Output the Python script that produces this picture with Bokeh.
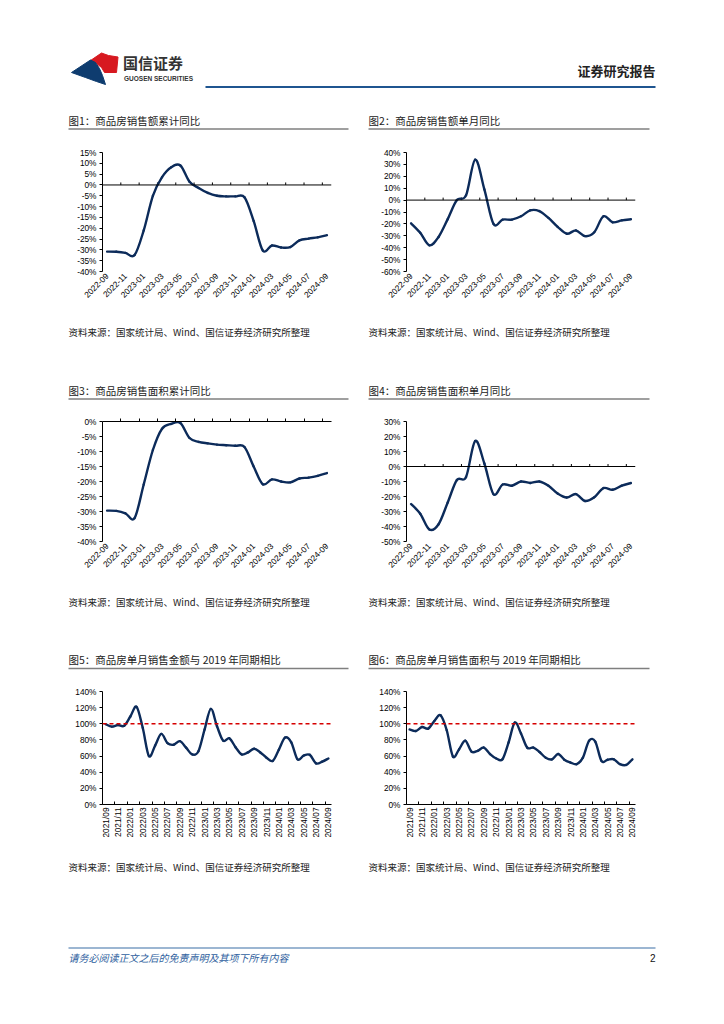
import pandas as pd
from bokeh.plotting import figure
from bokeh.layouts import column, row
from bokeh.models import Range1d, FixedTicker, Span, LinearAxis
from bokeh.core.properties import value
from bokeh.embed import file_html
from bokeh.resources import INLINE

CJK = "Noto Sans CJK SC"
LAT = "Liberation Sans"
LINE_COLOR = "#0c2b5a"
PAGE_W = 724

# ---------------- data ----------------
months_a = [p.strftime("%Y-%m") for p in pd.period_range("2022-09", "2024-09", freq="M")]
months_b = [p.strftime("%Y/%m") for p in pd.period_range("2021-09", "2024-09", freq="M")]

sales_amount_cum = [-30.8, -30.9, -31.4, -32.4, -21.0, -5.0, 3.6, 8.2, 9.0, 1.5, -1.4, -3.7,
                    -5.0, -5.3, -5.3, -5.7, -16.6, -30.3, -28.0, -28.9, -28.7, -25.6, -24.8, -24.2, -23.2]
sales_amount_month = [-19.5, -27.5, -38.0, -31.0, -16.0, 0.0, 4.0, 34.0, 9.0, -20.0, -16.4, -16.4,
                      -13.6, -8.6, -9.2, -15.0, -22.5, -28.3, -25.5, -30.3, -27.0, -13.6, -18.6, -17.0, -16.1]
sales_area_cum = [-29.7, -29.8, -30.6, -32.2, -21.0, -9.5, -2.4, -0.8, -0.5, -5.5, -6.8, -7.3,
                  -7.7, -7.9, -8.1, -8.5, -15.0, -20.9, -19.3, -20.0, -20.3, -19.0, -18.7, -18.1, -17.2]
sales_area_month = [-25.0, -31.5, -42.0, -38.5, -24.0, -9.0, -7.0, 17.0, 2.0, -18.5, -12.0, -12.8,
                    -10.0, -11.0, -10.0, -12.8, -18.0, -20.7, -18.4, -23.0, -20.5, -14.4, -15.5, -12.8, -11.0]
amount_vs_2019 = [99.5, 96.5, 98.5, 97.5, 109.0, 121.0, 95.0, 60.0, 73.0, 87.5, 76.0, 74.0, 78.5,
                  70.5, 62.0, 66.0, 93.0, 118.5, 97.0, 79.0, 82.0, 71.0, 62.0, 64.5, 69.0, 64.5,
                  58.0, 54.0, 68.0, 83.0, 77.0, 56.0, 60.5, 61.5, 51.0, 53.0, 57.0]
area_vs_2019 = [93.0, 91.0, 96.0, 94.0, 103.5, 110.5, 92.0, 59.5, 68.5, 79.0, 65.5, 66.5, 70.5,
                62.5, 57.0, 56.0, 77.0, 101.5, 88.0, 70.5, 70.5, 65.0, 58.0, 56.0, 62.5, 55.5,
                52.0, 50.0, 58.0, 79.0, 78.0, 54.0, 55.5, 56.0, 50.0, 49.0, 56.0]
baseline_2019 = 100

yticks_1 = list(range(-40, 16, 5))
yticks_2 = list(range(-60, 41, 10))
yticks_3 = list(range(-40, 1, 5))
yticks_4 = list(range(-50, 31, 10))
yticks_5 = list(range(0, 141, 20))

chart_titles = ["图1：商品房销售额累计同比", "图2：商品房销售额单月同比",
                "图3：商品房销售面积累计同比", "图4：商品房销售面积单月同比",
                "图5：商品房单月销售金额与 2019 年同期相比", "图6：商品房单月销售面积与 2019 年同期相比"]
source_note = "资料来源：国家统计局、Wind、国信证券经济研究所整理"
footer_note = "请务必阅读正文之后的免责声明及其项下所有内容"
page_no = "2"
company_cn = "国信证券"
company_en = "GUOSEN SECURITIES"
report_type = "证券研究报告"

FRAME_W = 229


def smooth(xs, ys):
    n = len(xs)
    out = dict(x0=[], y0=[], x1=[], y1=[], cx0=[], cy0=[], cx1=[], cy1=[])
    for i in range(n - 1):
        a = max(i - 1, 0)
        d = min(i + 2, n - 1)
        out["x0"].append(xs[i]); out["y0"].append(ys[i])
        out["x1"].append(xs[i + 1]); out["y1"].append(ys[i + 1])
        out["cx0"].append(xs[i] + (xs[i + 1] - xs[a]) / 6.0)
        out["cy0"].append(ys[i] + (ys[i + 1] - ys[a]) / 6.0)
        out["cx1"].append(xs[i + 1] - (xs[d] - xs[i]) / 6.0)
        out["cy1"].append(ys[i + 1] - (ys[d] - ys[i]) / 6.0)
    return out


def chart(vals, labels, yticks, width, left, height, top, bottom, angle, mode, ref=None):
    n = len(vals)
    xs = list(range(n))
    p = figure(width=width, height=height, x_range=Range1d(-0.5, n - 0.5),
               y_range=Range1d(yticks[0], yticks[-1]), output_backend="svg",
               toolbar_location=None, min_border_left=left,
               min_border_right=width - left - FRAME_W, min_border_top=top,
               min_border_bottom=bottom)
    p.outline_line_color = None
    p.xgrid.grid_line_color = None
    p.ygrid.grid_line_color = None
    p.background_fill_color = "white"
    p.border_fill_color = "white"

    frame_h = height - top - bottom
    all_b = [b - 0.5 for b in range(0, n, 2)]
    bounds = all_b if mode == "bottom" else all_b[1:]

    ya = p.yaxis[0]
    ya.ticker = FixedTicker(ticks=yticks)
    ya.major_label_overrides = {t: f"{t}%" for t in yticks}
    ya.axis_line_color = "black"
    ya.axis_line_width = 1
    ya.major_tick_out = 3
    ya.major_tick_in = 0
    ya.minor_tick_out = 0
    ya.minor_tick_in = 0
    ya.major_label_standoff = 3
    ya.major_label_text_font = LAT
    ya.major_label_text_font_size = "8.3px"
    ya.major_label_text_color = "#000000"

    xa = p.xaxis[0]
    even = list(range(0, n, 2))
    if mode == "bottom":
        xa.ticker = FixedTicker(ticks=even, minor_ticks=bounds)
        xa.axis_line_color = "black"
        xa.minor_tick_in = 3
        xa.minor_tick_out = 0
        xa.minor_tick_line_color = "black"
    else:
        xa.ticker = FixedTicker(ticks=even)
        xa.axis_line_color = None
        xa.minor_tick_in = 0
        xa.minor_tick_out = 0
    xa.major_tick_in = 0
    xa.major_tick_out = 0
    xa.major_label_overrides = {i: labels[i] for i in even}
    xa.major_label_orientation = angle
    xa.major_label_standoff = 3
    xa.major_label_text_font = LAT
    xa.major_label_text_font_size = "8.3px"
    xa.major_label_text_color = "#000000"

    if mode == "zero":
        p.add_layout(Span(location=0, dimension="width", line_color="black", line_width=1))
        tl = 2.5 * (yticks[-1] - yticks[0]) / frame_h
        p.segment(x0=bounds, y0=[0] * len(bounds), x1=bounds, y1=[tl] * len(bounds),
                  line_color="black", line_width=1)
    elif mode == "top":
        ax = LinearAxis(ticker=FixedTicker(ticks=bounds), major_tick_out=3, major_tick_in=0,
                        minor_tick_out=0, minor_tick_in=0, major_label_standoff=0,
                        major_label_text_font_size="1px", major_label_text_color=None,
                        axis_line_color="black", major_tick_line_color="black")
        p.add_layout(ax, "above")

    if ref is not None:
        p.add_layout(Span(location=ref, dimension="width", line_color="#d50000",
                          line_width=1.5, line_dash="4 3"))

    sm = smooth(xs, vals)
    p.bezier(x0="x0", y0="y0", x1="x1", y1="y1", cx0="cx0", cy0="cy0", cx1="cx1", cy1="cy1",
             source=sm, line_color=LINE_COLOR, line_width=2.4, line_cap="round")
    return p


def strip(y_top, y_bot):
    p = figure(width=PAGE_W, height=int(y_bot - y_top), x_range=Range1d(0, PAGE_W),
               y_range=Range1d(y_bot, y_top), output_backend="svg", toolbar_location=None,
               x_axis_type=None, y_axis_type=None, min_border=0)
    p.outline_line_color = None
    p.background_fill_color = "white"
    p.border_fill_color = "white"
    return p


def put_text(p, x, y, txt, size, color="#222222", font=CJK, style="normal", align="left"):
    p.text(x=[x], y=[y], text=[txt], text_font=value(font), text_font_size=size,
           text_color=color, text_font_style=style, text_align=align, text_baseline="middle")


def title_pair(p, y_text, y_rule, t_left, t_right):
    put_text(p, 68, y_text, t_left, "10.5px")
    put_text(p, 368, y_text, t_right, "10.5px")
    p.segment(x0=[68, 368], y0=[y_rule, y_rule], x1=[348, 649], y1=[y_rule, y_rule],
              line_color="#7f7f7f", line_width=1.5)


def source_pair(p, y):
    put_text(p, 68, y, source_note, "9.5px")
    put_text(p, 368, y, source_note, "9.5px")


# ---------------- header + titles 1/2 ----------------
sA = strip(0, 140)
sA.patch(x=[90.0, 101.0, 108.0, 117.5, 116.0, 104.0, 101.0, 96.0],
         y=[60.0, 52.5, 55.0, 56.5, 72.0, 72.0, 67.0, 63.0], color="#d71920")
sA.patch(x=[71.0, 90.0, 95.0, 99.0, 102.0, 105.0, 96.0, 85.0],
         y=[72.0, 59.5, 62.0, 68.0, 75.0, 84.0, 81.0, 77.0], color="#0e3c6f")
put_text(sA, 122.5, 61.5, company_cn, "15px", color="#333333", style="bold")
put_text(sA, 123.5, 78.0, company_en, "6.5px", color="#333333", font=LAT, style="bold")
put_text(sA, 655, 69.5, report_type, "13px", color="#222222", style="bold", align="right")
sA.segment(x0=[205], y0=[86.5], x1=[655], y1=[86.5], line_color="#1f5590", line_width=2.2)
title_pair(sA, 119.5, 128.5, chart_titles[0], chart_titles[1])

c1 = chart(sales_amount_cum, months_a, yticks_1, 348, 102, 178, 12, 47, 0.785398, "zero")
c2 = chart(sales_amount_month, months_a, yticks_2, 376, 58, 178, 12, 47, 0.785398, "zero")

sC = strip(318, 405)
source_pair(sC, 331.5)
title_pair(sC, 390, 398.5, chart_titles[2], chart_titles[3])

c3 = chart(sales_area_cum, months_a, yticks_3, 348, 102, 183, 16, 47, 0.785398, "top")
c4 = chart(sales_area_month, months_a, yticks_4, 376, 58, 183, 16, 47, 0.785398, "zero")

sE = strip(588, 685)
source_pair(sE, 601.5)
title_pair(sE, 658.5, 668, chart_titles[4], chart_titles[5])

c5 = chart(amount_vs_2019, months_b, yticks_5, 348, 102, 168, 6, 49, 1.570796, "bottom",
           ref=baseline_2019)
c6 = chart(area_vs_2019, months_b, yticks_5, 376, 58, 168, 6, 49, 1.570796, "bottom",
           ref=baseline_2019)

sG = strip(853, 1016)
source_pair(sG, 866.5)
sG.segment(x0=[68], y0=[947.5], x1=[655], y1=[947.5], line_color="#3a6ea5", line_width=1.2)
put_text(sG, 68, 956.5, footer_note, "10px", color="#2f5f9e", style="italic")
put_text(sG, 655, 957, page_no, "10px", color="#111111", font=LAT, align="right")

page = column(sA, row(c1, c2), sC, row(c3, c4), sE, row(c5, c6), sG)

open("out.html", "w").write(file_html(page, INLINE))
